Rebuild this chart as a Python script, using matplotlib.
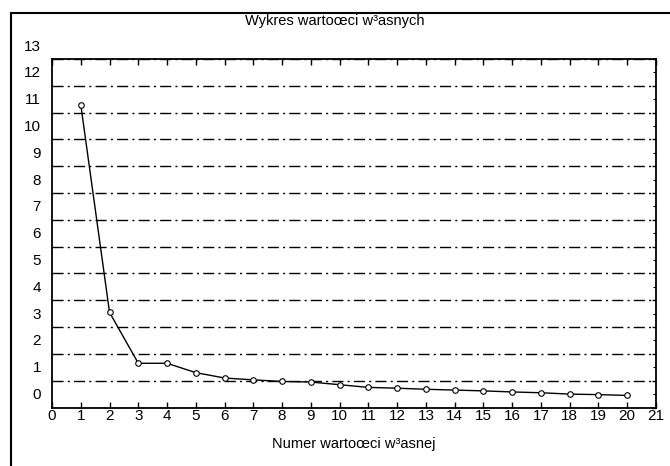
import matplotlib
matplotlib.use('Agg')
import matplotlib.pyplot as plt
import matplotlib.transforms as mtransforms
from matplotlib.lines import Line2D
import numpy as np

plt.rcParams['font.family'] = ['Liberation Sans Narrow', 'Liberation Sans', 'DejaVu Sans']

# eigenvalue number and value
numbers = list(range(1, 21))
eigenvalues = [11.3, 3.55, 1.65, 1.65, 1.3, 1.1, 1.03, 0.97, 0.95, 0.85,
               0.75, 0.72, 0.68, 0.65, 0.62, 0.58, 0.55, 0.5, 0.48, 0.45]
x_ticks = list(range(0, 22))
y_ticks = list(range(0, 14))

title = 'Wykres wartoœci w³asnych'
xlabel = 'Numer wartoœci w³asnej'

fig = plt.figure(figsize=(6.7, 4.66), dpi=100)
ax = fig.add_axes([52/670, 1 - 407.5/466, (656-52)/670, (407.5-59)/466])

ax.plot(numbers, eigenvalues, color='black', lw=1, marker='o', ms=4,
        mfc='white', mec='black', mew=0.8, zorder=3)

ax.set_xlim(0, 21)
ax.set_ylim(0, 13)
ax.set_xticks(x_ticks)
ax.set_yticks(y_ticks)
ax.set_yticks(np.arange(0, 13, 0.5), minor=True)

ax.yaxis.grid(True, color='black', lw=1, linestyle=(0, (8, 3, 1.5, 3)))
ax.set_axisbelow(True)

ax.tick_params(axis='x', direction='in', length=4, width=1, top=True,
               pad=1, labelsize=11)
ax.tick_params(axis='y', which='major', left=False, right=True, direction='in',
               length=3, width=1, labelsize=11, pad=8)
ax.tick_params(axis='y', which='minor', left=False, right=True, direction='in',
               length=2, width=0.8)

# the y labels sit a little above their grid lines in the original
off = mtransforms.ScaledTranslation(0, 10/72, fig.dpi_scale_trans)
for t in ax.yaxis.get_major_ticks():
    t.label1.set_transform(t.label1.get_transform() + off)

for s in ax.spines.values():
    s.set_linewidth(1.3)

ax.set_xlabel(xlabel, fontsize=10.5, labelpad=10)
fig.text(0.5, 1 - 21/466, title, ha='center', va='center', fontsize=10.5)

# outer frame of the picture
fig.add_artist(Line2D([11/670, 11/670], [0, 1 - 13/466], color='black', lw=1.5,
                      transform=fig.transFigure))
fig.add_artist(Line2D([11/670, 1], [1 - 13/466, 1 - 13/466], color='black', lw=1.5,
                      transform=fig.transFigure))

fig.savefig('out.png', dpi=100)
